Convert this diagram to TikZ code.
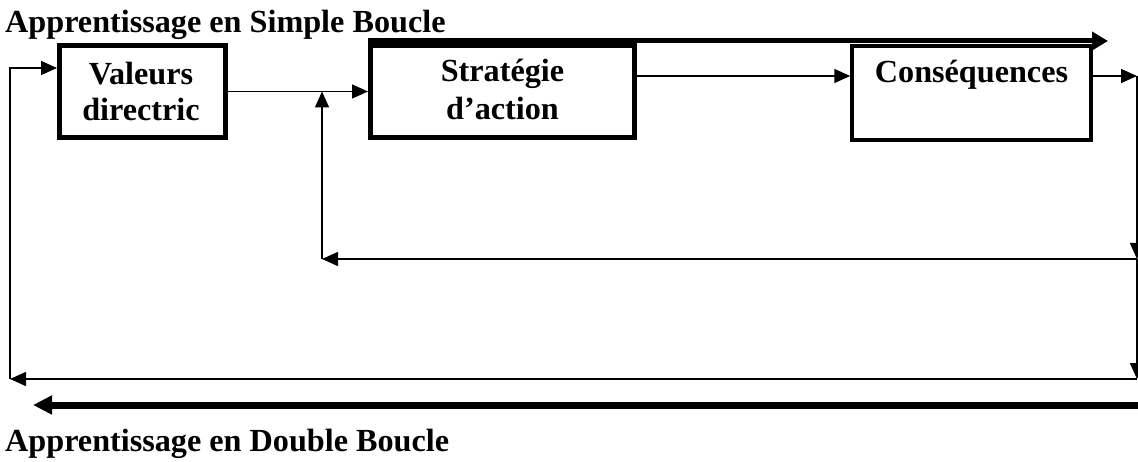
\documentclass[tikz,border=0pt]{standalone}
\usepackage{fontspec}
\setmainfont{Liberation Serif}
\usetikzlibrary{arrows.meta}
\begin{document}
\begin{tikzpicture}[x=1pt,y=-1pt,
  box/.style={draw,line width=5pt,outer sep=2.5pt,inner sep=0pt},
  thinbox/.style={draw,line width=3.5pt,outer sep=1.75pt,inner sep=0pt},
  txt/.style={font=\fontsize{32.2}{36}\selectfont\bfseries,inner sep=0pt,anchor=base},
  conn/.style={line width=1.5pt},
  arr/.style={conn,-{Triangle[length=16pt,width=14pt]}},
  bigarr/.style={line width=5pt,-{Triangle[length=16pt,width=18pt]}},
  hugearr/.style={line width=7pt,-{Triangle[length=19pt,width=18pt]}}]
\useasboundingbox (0,0) rectangle (1138,462);
% boxes
\node[box,minimum width=166pt,minimum height=92pt] (val) at (142.5,91.5) {};
\node[box,minimum width=264pt,minimum height=92pt] (strat) at (502.5,91.5) {};
\node[thinbox,minimum width=239pt,minimum height=94pt] (cons) at (971.5,93) {};
% texts
\node[txt] (t1) at (141,85) {Valeurs};
\node[txt] (t2) at (141,121) {directric};
\node[txt] (t3) at (502.5,82) {Stratégie};
\node[txt] (t4) at (502.5,120) {d’action};
\node[txt] (t5) at (971.5,83) {Conséquences};
\node[txt,anchor=base west] (title1) at (5,33) {Apprentissage en Simple Boucle};
\node[txt,anchor=base west] (title2) at (5,451) {Apprentissage en Double Boucle};
% coordinates
\coordinate (r0) at (1137,76);
\coordinate (r1) at (1137,259);
\coordinate (r2) at (1137,379);
\coordinate (l1) at (322,259);
\coordinate (j1) at (322,91.5);
\coordinate (l2) at (10,379);
\coordinate (vin) at (10,68);
\coordinate (tt) at (1108,41);
\coordinate (b0) at (1138,405);
\coordinate (b1) at (33,405);
% connectors
\draw[arr] (val.east) -- (strat.west);
\draw[arr] (strat.east |- r0) -- (cons.west |- r0);
\draw[arr] (cons.east |- r0) -- (r0);
\draw[arr] (r0) -- (r1);
\draw[arr] (r1) -- (r2);
\draw[arr] (r1) -- (l1);
\draw[arr] (l1) -- (j1);
\draw[arr] (r2) -- (l2);
\draw[arr] (l2) -- (vin) -- (val.west |- vin);
\draw[bigarr] (strat.north west |- tt) -- (tt);
\draw[hugearr] (b0) -- (b1);
\end{tikzpicture}
\end{document}
